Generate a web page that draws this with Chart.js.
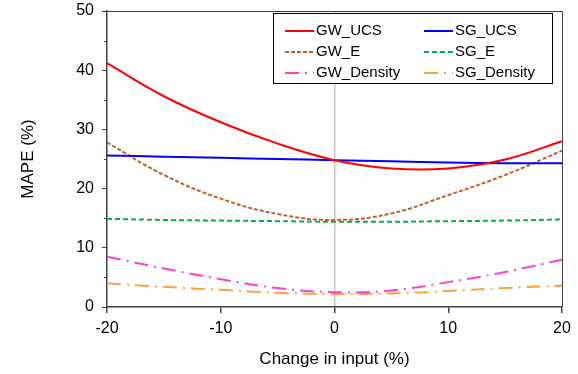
<!DOCTYPE html>
<html>
<head>
<meta charset="utf-8">
<script src="https://cdn.jsdelivr.net/npm/chart.js@4/dist/chart.umd.min.js"></script>
<style>
  html, body { margin: 0; padding: 0; background: #fff; }
  #wrap { width: 578px; height: 374px; }
</style>
</head>
<body>
<div id="wrap"><canvas id="c" width="578" height="374"></canvas></div>
<script>
'use strict';

// ── Data ──────────────────────────────────────────────────
const changeIn   = [-20, -15, -10, -5, 0, 5, 10, 15, 20];
const gwUcs      = [41.2, 35.6, 31.2, 27.6, 24.8, 23.4, 23.4, 24.9, 28.0];
const sgUcs      = [25.6, 25.4, 25.2, 25.0, 24.8, 24.6, 24.4, 24.3, 24.3];
const gwE        = [27.8, 22.3, 18.3, 15.7, 14.7, 15.8, 18.9, 22.3, 26.4];
const sgE        = [14.9, 14.7, 14.6, 14.5, 14.4, 14.4, 14.5, 14.6, 14.8];
const gwDensity  = [8.5, 6.5, 4.7, 3.2, 2.5, 2.8, 4.2, 5.9, 8.0];
const sgDensity  = [4.0, 3.4, 2.9, 2.4, 2.2, 2.3, 2.7, 3.2, 3.6];
const yTicks     = [0, 10, 20, 30, 40, 50];
const xTicks     = [-20, -10, 0, 10, 20];

const FONT = '"Liberation Sans", Arial, sans-serif';
const AXIS = '#404040';

function pts(ys) {
  return changeIn.map((x, i) => ({ x, y: ys[i] }));
}

function series(label, ys, color, dash, width) {
  return {
    label, data: pts(ys), borderColor: color, backgroundColor: color,
    borderDash: dash, borderWidth: width, pointRadius: 0,
    tension: 0.4, fill: false
  };
}

// ── Frame, minor ticks and legend ─────────────────────────
const framePlugin = {
  id: 'frame',
  afterDraw(chart) {
    const { ctx, chartArea: a, scales } = chart;
    ctx.save();
    ctx.strokeStyle = AXIS;
    ctx.lineWidth = 1;
    ctx.beginPath();
    ctx.moveTo(a.left, a.top + 0.5);
    ctx.lineTo(a.right + 0.5, a.top + 0.5);
    ctx.lineTo(a.right + 0.5, a.bottom);
    ctx.stroke();
    // minor y ticks
    for (let v = 5; v < 50; v += 10) {
      const py = Math.round(scales.y.getPixelForValue(v)) + 0.5;
      ctx.beginPath();
      ctx.moveTo(a.left - 3, py);
      ctx.lineTo(a.left, py);
      ctx.stroke();
    }

    // legend box
    const bx = 273, by = 13, bw = 279, bh = 70;
    ctx.fillStyle = '#fff';
    ctx.fillRect(bx, by, bw, bh);
    ctx.strokeStyle = '#000';
    ctx.strokeRect(bx + 0.5, by + 0.5, bw, bh);
    ctx.font = '15px ' + FONT;
    ctx.textBaseline = 'middle';
    const rows = [31, 52, 73];
    const cols = [285, 424];
    chart.data.datasets.forEach((ds, i) => {
      const lx = cols[i % 2], ly = rows[Math.floor(i / 2)];
      ctx.strokeStyle = ds.borderColor;
      ctx.lineWidth = ds.borderWidth;
      ctx.setLineDash(ds.borderDash || []);
      ctx.beginPath();
      ctx.moveTo(lx, ly);
      ctx.lineTo(lx + 29, ly);
      ctx.stroke();
      ctx.setLineDash([]);
      ctx.fillStyle = '#000';
      ctx.fillText(ds.label, lx + 31, ly);
    });
    ctx.restore();
  }
};

// ── Chart ─────────────────────────────────────────────────
new Chart(document.getElementById('c'), {
  type: 'line',
  data: {
    datasets: [
      series('GW_UCS',     gwUcs,     '#ff0000', [],            2),
      series('SG_UCS',     sgUcs,     '#0000ff', [],            2),
      series('GW_E',       gwE,       '#c0602a', [4, 2],        2),
      series('SG_E',       sgE,       '#00b050', [5, 3],        2),
      series('GW_Density', gwDensity, '#ff40cc', [14, 6, 2, 6], 2),
      series('SG_Density', sgDensity, '#ffa040', [14, 6, 2, 6], 2)
    ]
  },
  options: {
    responsive: false, animation: false,
    layout: { padding: { left: 14, right: 16, top: 0, bottom: 0 } },
    plugins: { legend: { display: false }, tooltip: { enabled: false } },
    scales: {
      x: {
        type: 'linear', min: -20, max: 20,
        afterBuildTicks: s => { s.ticks = xTicks.map(v => ({ value: v })); },
        afterFit: s => { s.height = 67; },
        ticks: { color: '#000', font: { family: FONT, size: 16 }, padding: 6, maxRotation: 0 },
        grid: {
          drawOnChartArea: true, tickLength: 6, tickColor: AXIS,
          color: c => (c.tick && c.tick.value === 0) ? '#c8c8c8' : 'rgba(0,0,0,0)',
          lineWidth: 1.5
        },
        border: { color: AXIS, width: 1.5 },
        title: {
          display: true, text: 'Change in input (%)', color: '#000',
          font: { family: FONT, size: 17 }, padding: { top: 6 }
        }
      },
      y: {
        min: 0, max: 50,
        afterBuildTicks: s => { s.ticks = yTicks.map(v => ({ value: v })); },
        afterFit: s => { s.width = 93; s.paddingTop = 11; s.paddingBottom = 0; },
        ticks: { color: '#000', font: { family: FONT, size: 16 }, padding: 8 },
        grid: { drawOnChartArea: false, tickLength: 5, tickColor: AXIS },
        border: { color: AXIS, width: 1.5 },
        title: {
          display: true, text: 'MAPE (%)', color: '#000',
          font: { family: FONT, size: 17 }, padding: { bottom: 18 }
        }
      }
    }
  },
  plugins: [framePlugin]
});
</script>
</body>
</html>
